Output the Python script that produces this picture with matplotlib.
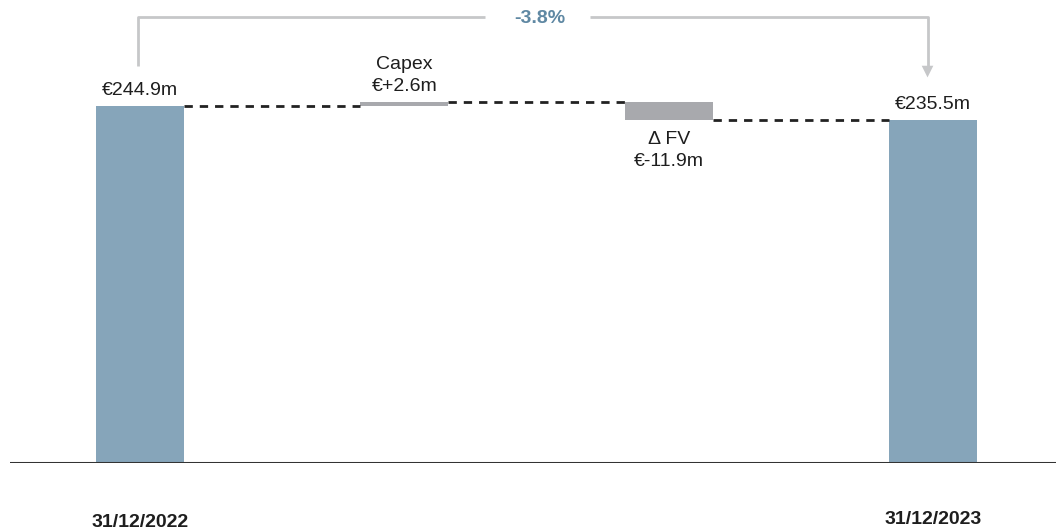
import matplotlib.pyplot as plt
from matplotlib.patches import Polygon

# waterfall values (EUR m)
steps = ["31/12/2022", "Capex", "\u0394 FV", "31/12/2023"]
start_value = 244.9
changes = [2.6, -11.9]
end_value = 235.5
change_pct = "-3.8%"

bar_blue = "#86a5ba"
step_grey = "#a8a9ad"
bracket_grey = "#c6c7c9"
pct_blue = "#5f88a3"

plt.rcParams["font.family"] = ["Liberation Sans Narrow", "Liberation Sans", "DejaVu Sans"]

fig = plt.figure(figsize=(10.56, 5.31), dpi=100)
ax = fig.add_axes([0.0095, 0.128, 0.9905, 0.872])
ax.set_xlim(-0.4915, 3.465)
ax.set_ylim(0, 317.6)
ax.axis("off")

w = 0.333
x = list(range(len(steps)))

# totals
ax.bar(x[0], start_value, width=w, color=bar_blue)
ax.bar(x[3], end_value, width=w, color=bar_blue)

# floating steps
level = start_value
levels = [level]
for i, c in enumerate(changes):
    lo = min(level, level + c)
    ax.bar(x[i + 1], abs(c), bottom=lo, width=w, color=step_grey)
    level += c
    levels.append(level)

# dashed connectors
dash = (0, (3, 2.5))
for i in range(3):
    ax.plot([x[i] + w / 2, x[i + 1] - w / 2], [levels[i]] * 2, ls=dash, color="#222222", lw=2)

# baseline
ax.axhline(0, color="#333333", lw=2.2)

fs = 14
ink = "#1e1e1e"
ax.text(x[0], start_value + 4.5, f"\u20ac{start_value:.1f}m", ha="center", va="bottom", fontsize=fs, color=ink)
ax.text(x[3], end_value + 4.5, f"\u20ac{end_value:.1f}m", ha="center", va="bottom", fontsize=fs, color=ink)
ax.text(x[1], levels[1] + 5, f"{steps[1]}\n\u20ac{changes[0]:+.1f}m", ha="center", va="bottom",
        fontsize=fs, color=ink, linespacing=1.4)
ax.text(x[2], levels[2] - 8, f"{steps[2]}\n\u20ac{changes[1]:.1f}m", ha="center", va="top",
        fontsize=fs, color=ink, linespacing=1.4)

# date labels under the axis
ax.text(x[0], -40.5, steps[0], ha="center", va="center", fontsize=fs, fontweight="bold", color=ink)
ax.text(x[3], -38.5, steps[3], ha="center", va="center", fontsize=fs, fontweight="bold", color=ink)

# bracket with the overall change
yb = 305.9
ax.plot([-0.008, -0.008, 1.304], [272.3, yb, yb], color=bracket_grey, lw=2, solid_capstyle="butt")
ax.plot([1.701, 2.979, 2.979], [yb, yb, 272], color=bracket_grey, lw=2, solid_capstyle="butt")
ax.add_patch(Polygon([[2.979 - 0.022, 272.5], [2.979 + 0.022, 272.5], [2.979, 264.5]],
                     closed=True, color=bracket_grey, lw=0))
ax.text(1.512, yb - 1, change_pct, ha="center", va="center", fontsize=fs, fontweight="bold", color=pct_blue)

fig.savefig("out.png", dpi=100)
